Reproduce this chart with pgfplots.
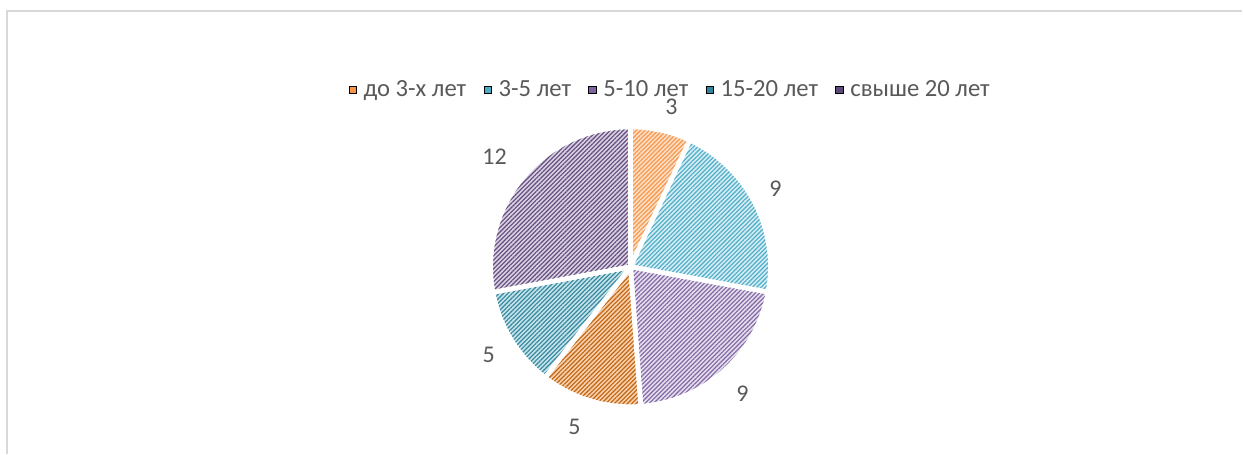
\documentclass[border=0pt]{standalone}
\usepackage{pgfplots}
\pgfplotsset{compat=1.18}
\usepackage{pgfplotstable}
\usepackage{fontspec}
\setmainfont{Carlito}
\usetikzlibrary{patterns.meta}
\definecolor{txt}{HTML}{595959}
\definecolor{frm}{HTML}{D9D9D9}
\definecolor{cA}{HTML}{F79646}\definecolor{bA}{HTML}{FCDCC2}
\definecolor{cB}{HTML}{4BACC6}\definecolor{bB}{HTML}{D4ECF3}
\definecolor{cC}{HTML}{8064A2}\definecolor{bC}{HTML}{E3DCEC}
\definecolor{cD}{HTML}{C0620E}\definecolor{bD}{HTML}{F8D0AC}
\definecolor{cE}{HTML}{31859C}\definecolor{bE}{HTML}{C4E2EA}
\definecolor{cF}{HTML}{5F497A}\definecolor{bF}{HTML}{D8D0E2}
\pgfplotstableread{
x y label
672 347 3
776 265 9
743 60 9
575 27 5
489 99 5
495 297 12
}\labeltable
\begin{document}
\begin{tikzpicture}
% slice values
\def\vA{3}\def\vB{9}\def\vC{9}\def\vD{5}\def\vE{5}\def\vF{12}
\pgfmathsetmacro\tot{\vA+\vB+\vC+\vD+\vE+\vF}
\pgfmathsetmacro\aA{90}
\pgfmathsetmacro\aB{\aA-360*\vA/\tot}
\pgfmathsetmacro\aC{\aB-360*\vB/\tot}
\pgfmathsetmacro\aD{\aC-360*\vC/\tot}
\pgfmathsetmacro\aE{\aD-360*\vD/\tot}
\pgfmathsetmacro\aF{\aE-360*\vE/\tot}
\pgfmathsetmacro\aG{\aF-360*\vF/\tot}
\def\cx{631}\def\cy{187}\def\R{140}
\begin{axis}[
  x=0.75pt, y=0.75pt,
  xmin=0, xmax=1243, ymin=0, ymax=454,
  hide axis, clip=false,
  legend style={at={(axis cs:671,364)}, anchor=center, draw=none, fill=none,
    legend columns=-1, font=\fontsize{18.5pt}{21pt}\selectfont\color{txt},
    /tikz/every odd column/.append style={column sep=3.5pt},
    /tikz/every even column/.append style={column sep=11pt}},
  legend image code/.code={\fill[#1] (0pt,-2.6pt) rectangle (5.4pt,2.8pt);},
  slice/.style={draw=white, line width=3.5pt, line join=round, samples=80},
  pat/.style={pattern={Lines[angle=45,distance=2.3pt,line width=0.85pt]}},
]
\addplot[slice, forget plot, preaction={fill=bA}, pat, pattern color=cA, domain=\aB:\aA] ({\cx+\R*cos(x)},{\cy+\R*sin(x)}) -- (axis cs:\cx,\cy) -- cycle;
\addplot[slice, forget plot, preaction={fill=bB}, pat, pattern color=cB, domain=\aC:\aB] ({\cx+\R*cos(x)},{\cy+\R*sin(x)}) -- (axis cs:\cx,\cy) -- cycle;
\addplot[slice, forget plot, preaction={fill=bC}, pat, pattern color=cC, domain=\aD:\aC] ({\cx+\R*cos(x)},{\cy+\R*sin(x)}) -- (axis cs:\cx,\cy) -- cycle;
\addplot[slice, forget plot, preaction={fill=bD}, pat, pattern color=cD, domain=\aE:\aD] ({\cx+\R*cos(x)},{\cy+\R*sin(x)}) -- (axis cs:\cx,\cy) -- cycle;
\addplot[slice, forget plot, preaction={fill=bE}, pat, pattern color=cE, domain=\aF:\aE] ({\cx+\R*cos(x)},{\cy+\R*sin(x)}) -- (axis cs:\cx,\cy) -- cycle;
\addplot[slice, forget plot, preaction={fill=bF}, pat, pattern color=cF, domain=\aG:\aF] ({\cx+\R*cos(x)},{\cy+\R*sin(x)}) -- (axis cs:\cx,\cy) -- cycle;
\addplot[forget plot, draw=none, mark=none, nodes near coords, point meta=explicit symbolic,
  nodes near coords style={anchor=center, text=txt, font=\fontsize{18pt}{20pt}\selectfont}]
  table[x=x, y=y, meta=label] {\labeltable};
\addlegendimage{fill=cA}
\addlegendimage{fill=cB}
\addlegendimage{fill=cC}
\addlegendimage{fill=cE}
\addlegendimage{fill=cF}
\legend{до 3-х лет, 3-5 лет, 5-10 лет, 15-20 лет, свыше 20 лет}
\draw[frm, line width=1.5pt] (axis cs:7,0) -- (axis cs:7,443) -- (axis cs:1243,443);
\path (axis cs:0,0) (axis cs:1243,454);
\end{axis}
\end{tikzpicture}
\end{document}
